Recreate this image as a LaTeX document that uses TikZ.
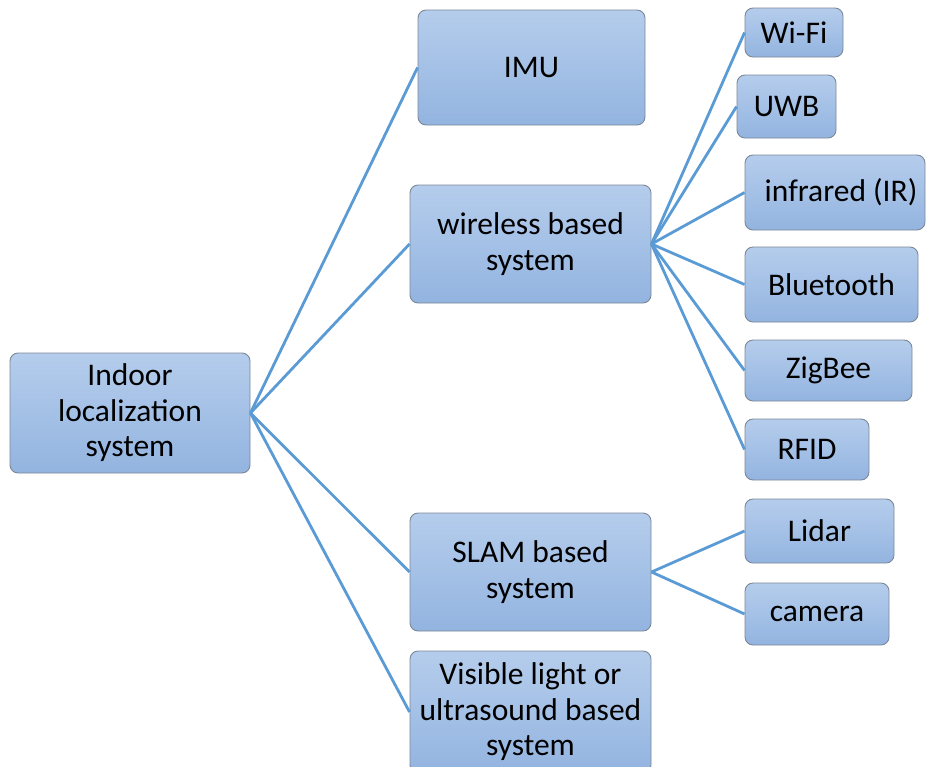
\documentclass[tikz,border=0pt]{standalone}
\usepackage{fontspec}
\setmainfont{Carlito}
\usetikzlibrary{positioning}

\definecolor{boxtop}{HTML}{B5CDEC}
\definecolor{boxbottom}{HTML}{93B4E0}
\definecolor{boxline}{HTML}{7C8799}
\definecolor{linkblue}{HTML}{5B9BD5}

\begin{document}
\begin{tikzpicture}[x=1pt, y=-1pt,
  box/.style={draw=boxline, line width=0.9pt, rounded corners=8pt,
    top color=boxtop, bottom color=boxbottom, align=center, inner sep=0pt,
    font=\fontsize{31.5}{35.5}\selectfont},
  link/.style={draw=linkblue, line width=2.8pt}]

  \useasboundingbox (0,0) rectangle (926,766);

  % root
  \node[box, minimum width=240, minimum height=120] (indoor) at (130,413) {Indoor\\localization\\system};

  % middle level
  \node[box, minimum width=227, minimum height=115] (imu) at (531.5,67.5) {IMU};
  \node[box, minimum width=241, minimum height=118] (wireless) at (530.5,244) {wireless based\\system};
  \node[box, minimum width=241, minimum height=118] (slam) at (530.5,572) {SLAM based\\system};
  \node[box, minimum width=241, minimum height=122] (visible) at (530.5,712) {Visible light or\\ultrasound based\\system};

  % wireless leaves
  \node[box, minimum width=98, minimum height=49] (wifi) at (794,32.5) {Wi-Fi};
  \node[box, minimum width=99, minimum height=63] (uwb) at (786.5,106.5) {UWB};
  \node[box, minimum width=180, minimum height=75] (infrared) at (835,192.5) {\hspace{12pt}infrared (IR)};
  \node[box, minimum width=173, minimum height=75] (bluetooth) at (831.5,284.5) {Bluetooth};
  \node[box, minimum width=167, minimum height=61] (zigbee) at (828.5,370.5) {ZigBee};
  \node[box, minimum width=124, minimum height=61] (rfid) at (807,449.5) {RFID};

  % slam leaves
  \node[box, minimum width=149, minimum height=64] (lidar) at (819.5,531) {Lidar};
  \node[box, minimum width=144, minimum height=62] (camera) at (817,614) {camera};

  \draw[link] (indoor.east) -- (imu.west);
  \draw[link] (indoor.east) -- (wireless.west);
  \draw[link] (indoor.east) -- (slam.west);
  \draw[link] (indoor.east) -- (visible.west);

  \draw[link] (wireless.east) -- (wifi.west);
  \draw[link] (wireless.east) -- (uwb.west);
  \draw[link] (wireless.east) -- (infrared.west);
  \draw[link] (wireless.east) -- (bluetooth.west);
  \draw[link] (wireless.east) -- (zigbee.west);
  \draw[link] (wireless.east) -- (rfid.west);

  \draw[link] (slam.east) -- (lidar.west);
  \draw[link] (slam.east) -- (camera.west);
\end{tikzpicture}
\end{document}
